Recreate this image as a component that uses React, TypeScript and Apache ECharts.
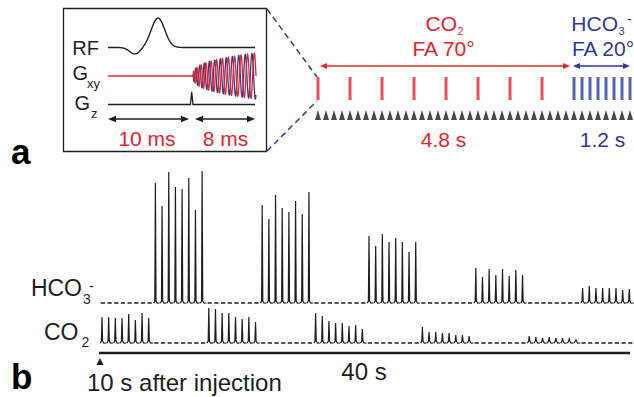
import React, { useEffect, useRef } from "react";
import * as echarts from "echarts";

// ---------- data ----------
// panel a: readout index (0.15 s each) of the excitation pulses
const readouts = [0, 1, 2, 3, 4, 5, 6, 7, 8, 9, 10, 11, 12, 13, 14, 15, 16, 17, 18, 19, 20, 21, 22, 23, 24, 25, 26, 27, 28, 29, 30, 31, 32, 33, 34, 35, 36, 37, 38, 39];
const co2Pulses = [0, 4, 8, 12, 16, 20, 24, 28];
const hco3Pulses = [32, 33, 34, 35, 36, 37, 38, 39];

// panel b: peak heights (a.u.) of the 8 acquisitions in each of 5 blocks
const co2Blocks = [
  [26, 26, 25, 25, 29, 23, 30, 25],
  [35, 34, 30, 30, 26, 24, 26, 21],
  [30, 27, 22, 20, 20, 17, 18, 14],
  [16, 11, 11, 10, 10, 8, 8, 7],
  [7, 6, 5, 6, 5, 5, 4, 3],
];
const hco3Blocks = [
  [120, 97, 131, 116, 114, 125, 93, 132],
  [98, 84, 108, 95, 91, 102, 89, 111],
  [67, 57, 69, 61, 65, 61, 51, 61],
  [35, 26, 34, 28, 34, 27, 33, 28],
  [15, 17, 15, 15, 15, 15, 13, 14],
];
const acqPerBlock = 8;

// ---------- styles ----------
const RED = "#e4242b";
const BLUE = "#2e3a96";
const INK = "#1e1e1e";
const FONT = '"Liberation Sans", Arial, Helvetica, sans-serif';

function txt(text: string, x: number, y: number, size: number, color: string, align = "center", extra: any = {}) {
  return {
    type: "text",
    x,
    y,
    silent: true,
    style: {
      text,
      fontSize: size,
      fontFamily: FONT,
      fill: color,
      align,
      verticalAlign: "middle",
      textAlign: align,
      textVerticalAlign: "middle",
      ...extra,
    },
  };
}

function arrow(xa: number, xb: number, y: number, color: string, head = 7, hw = 3, lw = 1.4) {
  return [
    { type: "line", silent: true, shape: { x1: xa + head * 0.6, y1: y, x2: xb - head * 0.6, y2: y }, style: { stroke: color, lineWidth: lw } },
    { type: "polygon", silent: true, shape: { points: [[xa, y], [xa + head, y - hw], [xa + head, y + hw]] }, style: { fill: color } },
    { type: "polygon", silent: true, shape: { points: [[xb, y], [xb - head, y - hw], [xb - head, y + hw]] }, style: { fill: color } },
  ];
}

// schematic waveforms of the pulse-sequence inset (illustration)
function rfPoints() {
  const pts: number[][] = [];
  for (let x = 108; x <= 255; x += 0.5) {
    const peak = 29.5 * Math.exp(-Math.pow((x - 158) / 9.5, 2));
    const dip = 6.5 * Math.exp(-Math.pow((x - 135) / 7.5, 2));
    pts.push([x, 47.5 - peak + dip]);
  }
  return pts;
}
function spiralPoints(phase: number) {
  const pts: number[][] = [];
  const n = 500;
  for (let j = 0; j <= n; j++) {
    const t = j / n;
    const a = 23 * Math.pow(t, 0.35);
    const th = 2 * Math.PI * 11.5 * Math.pow(t, 0.8);
    pts.push([193 + 63 * t, 76 - a * Math.sin(th + phase)]);
  }
  return pts;
}

function renderSpectrum(params: any, api: any) {
  const i = api.value(0);
  const h = api.value(1);
  const p0 = api.coord([i, 0]);
  const p1 = api.coord([i + 1, 0]);
  const x0 = p0[0];
  const b = p0[1];
  const x1 = p1[0];
  const w = x1 - x0;
  if (h > 0) {
    const top = api.coord([i, h])[1];
    const xp = x0 + 0.3 * w;
    return {
      type: "polyline",
      shape: {
        points: [
          [x0 + 0.3, b],
          [xp - 1.8, b + 0.2],
          [xp - 0.6, b - 2],
          [xp, top],
          [xp + 0.6, b - 2],
          [xp + 1.8, b + 0.2],
          [x1 - 0.4, b],
        ],
      },
      style: { stroke: INK, lineWidth: 1.2, fill: null },
    };
  }
  return {
    type: "line",
    shape: { x1: x0 + 0.8, y1: b, x2: x1 - 1.6, y2: b },
    style: { stroke: INK, lineWidth: 1.5 },
  };
}

function buildRows() {
  const co2: number[][] = [];
  const hco3: number[][] = [];
  co2Blocks.forEach((blk, bi) => {
    blk.forEach((v, k) => {
      const idx = bi * acqPerBlock * 2 + k;
      co2.push([idx, v]);
      hco3.push([idx, 0]);
    });
    hco3Blocks[bi].forEach((v, k) => {
      const idx = bi * acqPerBlock * 2 + acqPerBlock + k;
      hco3.push([idx, v]);
      co2.push([idx, 0]);
    });
  });
  return { co2, hco3 };
}

export default function App() {
  const ref = useRef<HTMLDivElement>(null);
  useEffect(() => {
    const chart = echarts.init(ref.current!, null, { renderer: "svg" });
    const rows = buildRows();
    const nSpectra = co2Blocks.length * acqPerBlock * 2;

    const graphic: any[] = [
      // panel labels
      txt("a", 11, 151, 35, "#000", "left", { fontWeight: "bold" }),
      txt("b", 11, 376, 35, "#000", "left", { fontWeight: "bold" }),
      // inset box
      { type: "rect", silent: true, shape: { x: 63.5, y: 8.5, width: 203, height: 143 }, style: { fill: "none", stroke: INK, lineWidth: 1.3 } },
      txt("RF", 99, 47.5, 20, INK, "right"),
      txt("G", 88, 72.5, 20, INK, "right"),
      txt("xy", 87, 83, 13, INK, "left"),
      txt("G", 90, 102.5, 20, INK, "right"),
      txt("z", 91, 113, 13, INK, "left"),
      { type: "polyline", silent: true, shape: { points: rfPoints() }, style: { stroke: INK, lineWidth: 1.4, fill: null } },
      { type: "line", silent: true, shape: { x1: 108, y1: 76, x2: 193, y2: 76 }, style: { stroke: RED, lineWidth: 1.4 } },
      { type: "polyline", silent: true, shape: { points: spiralPoints(Math.PI / 2 + 0.6) }, style: { stroke: BLUE, lineWidth: 1.3, fill: null } },
      { type: "polyline", silent: true, shape: { points: spiralPoints(0) }, style: { stroke: RED, lineWidth: 1.3, fill: null } },
      { type: "polyline", silent: true, shape: { points: [[108, 104.5], [190.4, 104.5], [191.7, 92], [193, 104.5], [255, 104.5]] }, style: { stroke: INK, lineWidth: 1.3, fill: null } },
      ...arrow(108, 189, 119, INK, 8, 3.2, 1.4),
      ...arrow(195, 255, 119, INK, 8, 3.2, 1.4),
      txt("10 ms", 147, 138, 21, RED),
      txt("8 ms", 225.5, 138, 21, RED),
      // zoom lines
      { type: "line", silent: true, shape: { x1: 267, y1: 9, x2: 317, y2: 77 }, style: { stroke: BLUE, lineWidth: 1.5, lineDash: [6, 4] } },
      { type: "line", silent: true, shape: { x1: 267, y1: 151, x2: 317, y2: 101 }, style: { stroke: BLUE, lineWidth: 1.5, lineDash: [6, 4] } },
      // sequence labels
      txt("CO", 457, 23.5, 21, RED, "right"),
      txt("2", 457.5, 30.5, 11, RED, "left"),
      txt("FA 70°", 443.5, 48.5, 21, RED),
      ...arrow(320, 570, 66, RED, 7, 3, 1.4),
      txt("HCO", 618, 23.5, 21, BLUE, "right"),
      txt("3", 618.5, 30.5, 11, BLUE, "left"),
      txt("-", 627, 19, 14, BLUE, "left"),
      txt("FA 20°", 603, 48.5, 21, BLUE),
      ...arrow(573, 630, 66, BLUE, 7, 3, 1.4),
      txt("4.8 s", 443.5, 139.5, 21, RED),
      txt("1.2 s", 602.5, 139.5, 21, BLUE),
      // panel b labels
      txt("HCO", 82, 287.5, 23, INK, "right"),
      txt("3", 83, 299, 14, INK, "left"),
      txt("-", 89, 285, 15, INK, "left"),
      txt("CO", 78.5, 331.5, 23, INK, "right"),
      txt("2", 81.5, 342, 14, INK, "left"),
      { type: "line", silent: true, shape: { x1: 99, y1: 353, x2: 630, y2: 353 }, style: { stroke: INK, lineWidth: 2.6 } },
      { type: "polygon", silent: true, shape: { points: [[100, 358], [96.5, 365], [103.5, 365]] }, style: { fill: INK } },
      txt("10 s after injection", 87, 382, 24, INK, "left"),
      txt("40 s", 364, 371, 24, INK),
    ];

    const option: any = {
      animation: false,
      backgroundColor: "#ffffff",
      grid: [
        { left: 100, width: 535, top: 163, height: 140 },
        { left: 100, width: 535, top: 303, height: 40 },
        { left: 318, width: 312, top: 70, height: 50 },
      ],
      xAxis: [
        { type: "value", gridIndex: 0, min: 0, max: nSpectra, show: false },
        { type: "value", gridIndex: 1, min: 0, max: nSpectra, show: false },
        { type: "value", gridIndex: 2, min: 0, max: 39, show: false },
      ],
      yAxis: [
        { type: "value", gridIndex: 0, min: 0, max: 140, show: false },
        { type: "value", gridIndex: 1, min: 0, max: 40, show: false },
        { type: "value", gridIndex: 2, min: 0, max: 50, show: false },
      ],
      series: [
        { name: "HCO3-", type: "custom", xAxisIndex: 0, yAxisIndex: 0, renderItem: renderSpectrum, data: rows.hco3, silent: true },
        { name: "CO2", type: "custom", xAxisIndex: 1, yAxisIndex: 1, renderItem: renderSpectrum, data: rows.co2, silent: true },
        {
          name: "readout", type: "scatter", xAxisIndex: 2, yAxisIndex: 2, symbol: "triangle", symbolSize: [6, 10],
          itemStyle: { color: INK }, data: readouts.map((k) => [k, 5]), silent: true,
        },
        {
          name: "CO2 pulse", type: "scatter", xAxisIndex: 2, yAxisIndex: 2, symbol: "rect", symbolSize: [3, 23],
          itemStyle: { color: RED }, data: co2Pulses.map((k) => [k, 31.5]), silent: true,
        },
        {
          name: "HCO3 pulse", type: "scatter", xAxisIndex: 2, yAxisIndex: 2, symbol: "rect", symbolSize: [3, 23],
          itemStyle: { color: BLUE }, data: hco3Pulses.map((k) => [k, 31.5]), silent: true,
        },
      ],
      graphic: { elements: graphic },
    };
    chart.setOption(option);
    return () => chart.dispose();
  }, []);
  return (
    <div
      ref={ref}
      style={{ position: "fixed", left: 0, top: 0, width: 634, height: 397, background: "#fff" }}
    />
  );
}
